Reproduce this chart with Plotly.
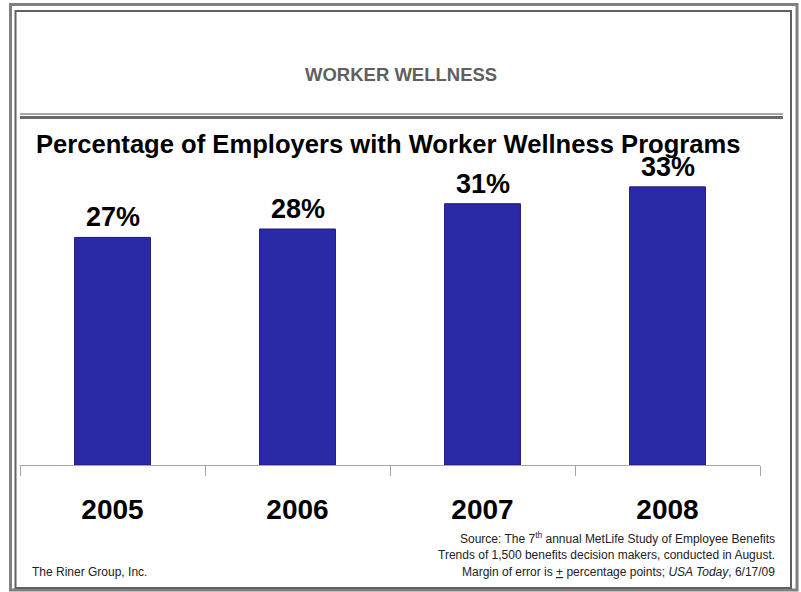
import plotly.graph_objects as go

years = ["2005", "2006", "2007", "2008"]
pct = [27, 28, 31, 33]
labels = ["27%", "28%", "31%", "33%"]

title_text = "WORKER WELLNESS"
subtitle_text = "Percentage of Employers with Worker Wellness Programs"
source_lines = [
    "Source: The 7<sup>th</sup> annual MetLife Study of Employee Benefits",
    "Trends of 1,500 benefits decision makers, conducted in August.",
    "Margin of error is <u>+</u> percentage points; <i>USA Today</i>, 6/17/09",
]
credit_text = "The Riner Group, Inc."

W, H = 801, 592
ML, MR, MT, MB = 20, 41, 170, 127
PW, PH = W - ML - MR, H - MT - MB
FONT = "Liberation Sans, Arial, sans-serif"

fig = go.Figure()
fig.add_trace(go.Bar(
    x=years, y=pct, width=0.41,
    marker=dict(color="#2a2aa6", line=dict(color="#1b1b7c", width=1)),
    hoverinfo="skip",
))

for i, (v, lab) in enumerate(zip(pct, labels)):
    fig.add_annotation(x=i, y=v, text="<b>" + lab + "</b>", showarrow=False, yanchor="bottom",
                       yshift=3, font=dict(family=FONT, size=27, color="#000000"))


def px(x):
    return (x - ML) / PW


def py(y):
    return (H - MB - y) / PH


shapes = []
# outer double frame
shapes.append(dict(type="rect", xref="paper", yref="paper", x0=px(10.5), x1=px(797), y0=py(590), y1=py(4.5),
                   line=dict(color="#808080", width=3)))
shapes.append(dict(type="rect", xref="paper", yref="paper", x0=px(15.5), x1=px(791), y0=py(588), y1=py(11),
                   line=dict(color="#606060", width=2)))
# separator under title
shapes.append(dict(type="line", xref="paper", yref="paper", x0=px(20), x1=px(783), y0=py(114), y1=py(114),
                   line=dict(color="#a8a8a8", width=2)))
shapes.append(dict(type="line", xref="paper", yref="paper", x0=px(20), x1=px(783), y0=py(117.5), y1=py(117.5),
                   line=dict(color="#6a6a6a", width=3)))
fig.update_layout(shapes=shapes)

fig.add_annotation(xref="paper", yref="paper", x=px(401), y=py(75), text="<b>" + title_text + "</b>",
                   showarrow=False, xanchor="center", yanchor="middle",
                   font=dict(family=FONT, size=18.5, color="#5f5f5f"))
fig.add_annotation(xref="paper", yref="paper", x=px(388), y=py(144), text="<b>" + subtitle_text + "</b>",
                   showarrow=False, xanchor="center", yanchor="middle",
                   font=dict(family=FONT, size=25.6, color="#000000"))
for i, line in enumerate(source_lines):
    fig.add_annotation(xref="paper", yref="paper", x=px(777), y=py(538 + 17 * i), text=line,
                       showarrow=False, xanchor="right", yanchor="middle",
                       font=dict(family=FONT, size=12, color="#222222"))
fig.add_annotation(xref="paper", yref="paper", x=px(30), y=py(572), text=credit_text,
                   showarrow=False, xanchor="left", yanchor="middle",
                   font=dict(family=FONT, size=12, color="#222222"))

fig.update_xaxes(
    type="category", range=[-0.5, 3.5], showline=True, linecolor="#a6a6a6", linewidth=1,
    ticks="outside", tickson="boundaries", ticklen=10, tickcolor="#a6a6a6", tickwidth=1,
    showgrid=False, zeroline=False, ticklabelstandoff=19,
    tickfont=dict(family=FONT, size=28, color="#000000", weight="bold"),
)
fig.update_yaxes(range=[0, 35], visible=False, showgrid=False, zeroline=False)

fig.update_layout(
    width=W, height=H, autosize=False,
    margin=dict(l=ML, r=MR, t=MT, b=MB, pad=0),
    paper_bgcolor="#ffffff", plot_bgcolor="#ffffff",
    showlegend=False, bargap=0.59,
)

fig.write_html("out.html", config={"displayModeBar": False})
